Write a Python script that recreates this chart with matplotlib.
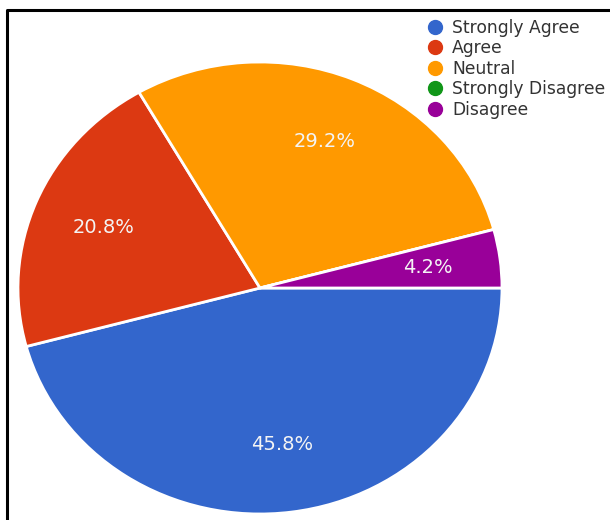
import matplotlib.pyplot as plt
from matplotlib.lines import Line2D

# Survey responses
labels = ['Strongly Agree', 'Agree', 'Neutral', 'Strongly Disagree', 'Disagree']
counts = [11, 5, 7, 0, 1]
colors = ['#3366cc', '#dc3912', '#ff9900', '#109618', '#990099']

plt.rcParams['font.family'] = ['DejaVu Sans']

W, H = 610, 520
fig = plt.figure(figsize=(W / 100, H / 100), dpi=100)

# pie area in pixels (left, top, right, bottom) - slightly squashed vertically
px_l, px_t, px_r, px_b = 18, 62, 502, 514
ax = fig.add_axes([px_l / W, 1 - px_b / H, (px_r - px_l) / W, (px_b - px_t) / H])


def pct_label(p):
    return '' if p == 0 else '%.1f%%' % p


wedges, texts, autotexts = ax.pie(
    counts,
    colors=colors,
    startangle=0,
    counterclock=False,
    autopct=pct_label,
    pctdistance=0.7,
    wedgeprops=dict(edgecolor='white', linewidth=2),
    textprops=dict(color='#f4f4f4', fontsize=14),
)
ax.set_aspect('auto')
ax.set_xlim(-1, 1)
ax.set_ylim(-1, 1)
ax.axis('off')
for w in wedges:
    w.set_clip_on(False)

# legend with round markers
handles = [Line2D([], [], marker='o', linestyle='none', markersize=10,
                  markerfacecolor=c, markeredgecolor=c) for c in colors]
fig.legend(handles, labels, loc='upper left',
           bbox_to_anchor=(428 / W, 1 - 19 / H),
           frameon=False, fontsize=12.3, labelcolor='#333333',
           handlelength=0.8, handletextpad=0.6, labelspacing=0.14,
           borderpad=0, borderaxespad=0)

# frame on left and top edges
fig.add_artist(Line2D([7 / W, 7 / W, 1.02], [-0.02, 1 - 10 / H, 1 - 10 / H],
                      color='black', linewidth=2.2, solid_capstyle='butt',
                      transform=fig.transFigure))

fig.savefig('out.png', dpi=100, facecolor='white')
